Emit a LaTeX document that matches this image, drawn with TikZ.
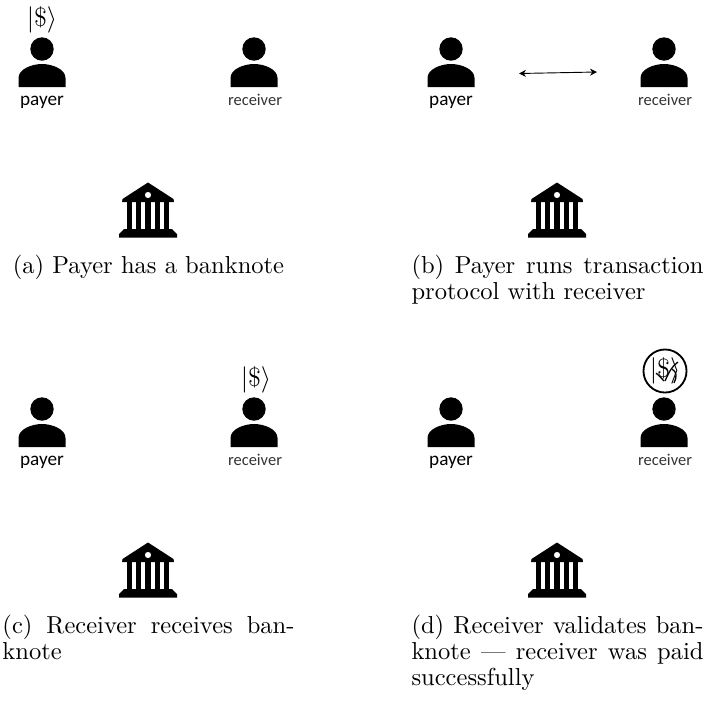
\documentclass[tikz,border=0pt]{standalone}
\usepackage{fontspec}
\newfontfamily\labelfont{Carlito}
\usetikzlibrary{arrows.meta}
\tikzset{
  person/.pic={
    % head and shoulders
    \fill (0, 0) circle (11.7);
    \fill (-23.5, 38) -- (-23.5, 29) .. controls (-23.5, 20) and (-10, 15) .. (0, 15)
      .. controls (10, 15) and (23.5, 20) .. (23.5, 29) -- (23.5, 38) -- cycle;
  },
  bank/.pic={
    % roof, columns and steps
    \fill[even odd rule] (0, -27.5) -- (25.5, -11) -- (26, -8) -- (-26, -8) -- (-25.5, -11) -- cycle
      (0, -15) circle (3.2);
    \fill (-21, -8) rectangle (-15.8, 20);
    \fill (-11.8, -8) rectangle (-6.6, 20);
    \fill (-2.6, -8) rectangle (2.6, 20);
    \fill (6.6, -8) rectangle (11.8, 20);
    \fill (15.8, -8) rectangle (21, 20);
    \fill (-24, 19) -- (24, 19) -- (29, 24) -- (29, 27.5) -- (-29, 27.5) -- (-29, 24) -- cycle;
  },
  payerlabel/.style={font=\labelfont\fontsize{10.5}{12}\selectfont, inner sep=0},
  receiverlabel/.style={font=\labelfont\fontsize{9}{12}\selectfont, text=black!80, inner sep=0},
  ketlabel/.style={font=\fontsize{14}{14}\selectfont, inner sep=0},
  subcaption/.style={anchor=north west, inner sep=0, transform shape, scale=1.34,
    text width=119pt, align=justify, font=\fontsize{10}{10.6}\selectfont}
}
\begin{document}
\begin{tikzpicture}[x=0.546pt, y=-0.546pt]
  \useasboundingbox (0, 0) rectangle (707, 703);

  % Panel a
  \pic at (42, 49) {person};
  \pic at (254, 49) {person};
  \node[payerlabel] (payera) at (42, 102) {payer};
  \node[receiverlabel] (receivera) at (255, 100) {receiver};
  \node[ketlabel] (keta) at (42, 20) {$|\$\rangle$};
  \pic at (148, 210) {bank};
  \node[subcaption, align=center] (capa) at (2, 255) {(a) Payer has a banknote};

  % Panel b
  \pic at (451, 49) {person};
  \pic at (664, 49) {person};
  \node[payerlabel] (payerb) at (451, 102) {payer};
  \node[receiverlabel] (receiverb) at (665, 100) {receiver};
  \coordinate (sendb) at (519, 73.5);
  \coordinate (recvb) at (597, 72);
  \draw[{Stealth[length=3.8pt, width=3.8pt]}-{Stealth[length=3.8pt, width=3.8pt]}, line width=0.5pt] (sendb) -- (recvb);
  \pic at (557, 210) {bank};
  \node[subcaption] (capb) at (411, 255) {(b) Payer runs transaction protocol with receiver};

  % Panel c
  \pic at (42, 409) {person};
  \pic at (254, 409) {person};
  \node[payerlabel] (payerc) at (42, 462) {payer};
  \node[receiverlabel] (receiverc) at (255, 460) {receiver};
  \node[ketlabel] (ketc) at (256, 380) {$|\$\rangle$};
  \pic at (148, 570) {bank};
  \node[subcaption] (capc) at (2, 615) {(c) Receiver receives banknote};

  % Panel d
  \pic at (451, 409) {person};
  \pic at (664, 409) {person};
  \node[payerlabel] (payerd) at (451, 462) {payer};
  \node[receiverlabel] (receiverd) at (665, 460) {receiver};
  \node[ketlabel, draw, circle, line width=1pt, minimum size=23.5pt] (ketd) at (665, 371) {$|\$\rangle$};
  % Strike through the banknote
  \draw[line width=0.7pt] (656, 373) .. controls (659, 375) and (661, 378) .. (664, 381);
  \draw[line width=0.7pt] (678, 362) .. controls (672, 366) and (669, 372) .. (665, 381);
  \draw[line width=0.7pt] (672, 369) .. controls (677, 372) and (677, 377) .. (674, 383);
  \pic at (557, 570) {bank};
  \node[subcaption] (capd) at (411, 615) {(d) Receiver validates banknote --- receiver was paid successfully};
\end{tikzpicture}
\end{document}
